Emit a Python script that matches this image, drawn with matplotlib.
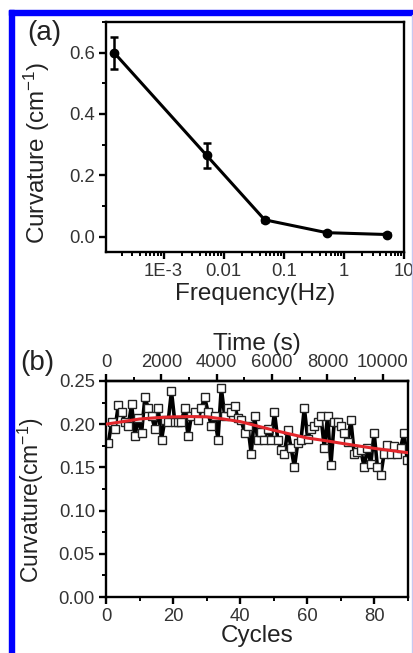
import numpy as np
import matplotlib
matplotlib.use("Agg")
import matplotlib.pyplot as plt
from matplotlib.patches import Rectangle
from matplotlib.ticker import FixedLocator, MultipleLocator, LogLocator, NullFormatter

plt.rcParams['font.family'] = ['Liberation Sans', 'DejaVu Sans']
plt.rcParams['mathtext.fontset'] = 'custom'
plt.rcParams['mathtext.rm'] = 'Liberation Sans'
plt.rcParams['mathtext.it'] = 'Liberation Sans'

# ---- panel (a) data ----
freq = [0.00015, 0.0052, 0.048, 0.52, 5.2]
curv_a = [0.600, 0.265, 0.055, 0.013, 0.007]
err_a = [0.052, 0.040, 0.006, 0.004, 0.004]
freq_ticks = [1e-3, 1e-2, 1e-1, 1, 10]
freq_labels = ['1E-3', '0.01', '0.1', '1', '10']

# ---- panel (b) data ----
curv_b = [0.178, 0.203, 0.195, 0.222, 0.214, 0.203, 0.198, 0.223, 0.186, 0.207,
          0.190, 0.231, 0.219, 0.210, 0.195, 0.219, 0.182, 0.205, 0.203, 0.238,
          0.203, 0.203, 0.203, 0.219, 0.186, 0.210, 0.214, 0.205, 0.219, 0.231,
          0.214, 0.198, 0.210, 0.182, 0.242, 0.210, 0.219, 0.214, 0.221, 0.207,
          0.205, 0.190, 0.198, 0.166, 0.209, 0.182, 0.191, 0.182, 0.195, 0.182,
          0.214, 0.182, 0.170, 0.166, 0.193, 0.173, 0.150, 0.178, 0.182, 0.219,
          0.183, 0.195, 0.198, 0.203, 0.209, 0.173, 0.209, 0.153, 0.203, 0.203,
          0.198, 0.190, 0.179, 0.205, 0.166, 0.168, 0.170, 0.150, 0.173, 0.154,
          0.190, 0.150, 0.141, 0.166, 0.176, 0.166, 0.175, 0.166, 0.173, 0.190,
          0.158]
cycles_b = np.arange(len(curv_b)) * 0.99 + 0.7
fit_x = [0, 5, 10, 15, 20, 25, 30, 35, 40, 45, 50, 55, 60, 65, 70, 75, 80, 85, 90]
fit_y = [0.200, 0.203, 0.206, 0.2075, 0.2085, 0.2088, 0.2085, 0.206, 0.203, 0.198,
         0.193, 0.1885, 0.184, 0.1812, 0.178, 0.175, 0.172, 0.1695, 0.167]
sec_per_cycle = 121.2

W, H = 414, 653
fig = plt.figure(figsize=(W / 100, H / 100), dpi=100)

TICK = 13.3
LAB = 17.5
TXT = '#222222'

def style(ax):
    for s in ax.spines.values():
        s.set_linewidth(1.7)
    ax.tick_params(which='major', direction='out', length=5, width=1.7, labelsize=TICK,
                   pad=3, labelcolor='#333333')
    ax.tick_params(which='minor', direction='out', length=3, width=1.4)

# panel (a)
axa = fig.add_axes([106 / W, 1 - 252 / H, 298 / W, 230 / H])
style(axa)
axa.set_xscale('log')
axa.errorbar(freq, curv_a, yerr=err_a, color='black', lw=2.2, marker='o', ms=6,
             capsize=3, capthick=1.8, elinewidth=1.8)
axa.set_xlim(1.1e-4, 10)
axa.set_ylim(-0.05, 0.7)
axa.xaxis.set_major_locator(FixedLocator(freq_ticks))
axa.set_xticklabels(freq_labels)
axa.xaxis.set_minor_locator(LogLocator(base=10, subs=np.arange(2, 10)))
axa.xaxis.set_minor_formatter(NullFormatter())
axa.yaxis.set_major_locator(MultipleLocator(0.2))
axa.yaxis.set_minor_locator(MultipleLocator(0.1))
axa.yaxis.set_major_formatter(matplotlib.ticker.FormatStrFormatter('%.1f'))
axa.set_xlabel('Frequency(Hz)', fontsize=LAB, labelpad=2, color=TXT)
axa.set_ylabel('Curvature (cm$^{-1}$)', fontsize=LAB, color=TXT)
axa.yaxis.set_label_coords(-54 / 298, 0.43)
fig.text(27 / W, 1 - 33 / H, '(a)', fontsize=20, va='center', ha='left', color=TXT)

# panel (b)
axb = fig.add_axes([106 / W, 1 - 597 / H, 302 / W, 216 / H])
style(axb)
axb.plot(cycles_b, curv_b, color='black', lw=2.6, marker='s', ms=5.5,
         mfc='white', mec='#222222', mew=1.0, zorder=2)
axb.plot(fit_x, fit_y, color='#e3262b', lw=2.2, zorder=3)
axb.set_xlim(0, 90)
axb.set_ylim(0, 0.25)
axb.xaxis.set_major_locator(MultipleLocator(20))
axb.xaxis.set_minor_locator(MultipleLocator(10))
axb.yaxis.set_major_locator(MultipleLocator(0.05))
axb.yaxis.set_minor_locator(MultipleLocator(0.025))
axb.yaxis.set_major_formatter(matplotlib.ticker.FormatStrFormatter('%.2f'))
axb.set_xlabel('Cycles', fontsize=LAB, labelpad=0, color=TXT)
axb.set_ylabel('Curvature(cm$^{-1}$)', fontsize=16.5, color=TXT)
axb.yaxis.set_label_coords(-60 / 302, 0.45)

top = axb.secondary_xaxis('top', functions=(lambda c: c * sec_per_cycle,
                                            lambda t: t / sec_per_cycle))
top.xaxis.set_major_locator(MultipleLocator(2000))
top.xaxis.set_minor_locator(MultipleLocator(1000))
top.tick_params(which='major', direction='out', length=5, width=1.7, labelsize=TICK,
                pad=2, labelcolor='#333333')
top.tick_params(which='minor', direction='out', length=3, width=1.4)
top.spines['top'].set_linewidth(1.7)
top.set_xlabel('Time (s)', fontsize=LAB, labelpad=3, color=TXT)
fig.text(20 / W, 1 - 363 / H, '(b)', fontsize=20, va='center', ha='left', color=TXT)

# blue frame
fig.patches.append(Rectangle((9 / W, 0), 5 / W, 1 - 10 / H, transform=fig.transFigure,
                             color='#0000ff', zorder=10))
fig.patches.append(Rectangle((9 / W, 1 - 15 / H), 1 - 9 / W, 5 / H, transform=fig.transFigure,
                             color='#0000ff', zorder=10))
fig.patches.append(Rectangle((412.5 / W, 0), 1 / W, 1 - 15 / H, transform=fig.transFigure,
                             color='#c8c8f0', zorder=10))

fig.savefig('out.png', dpi=100)
